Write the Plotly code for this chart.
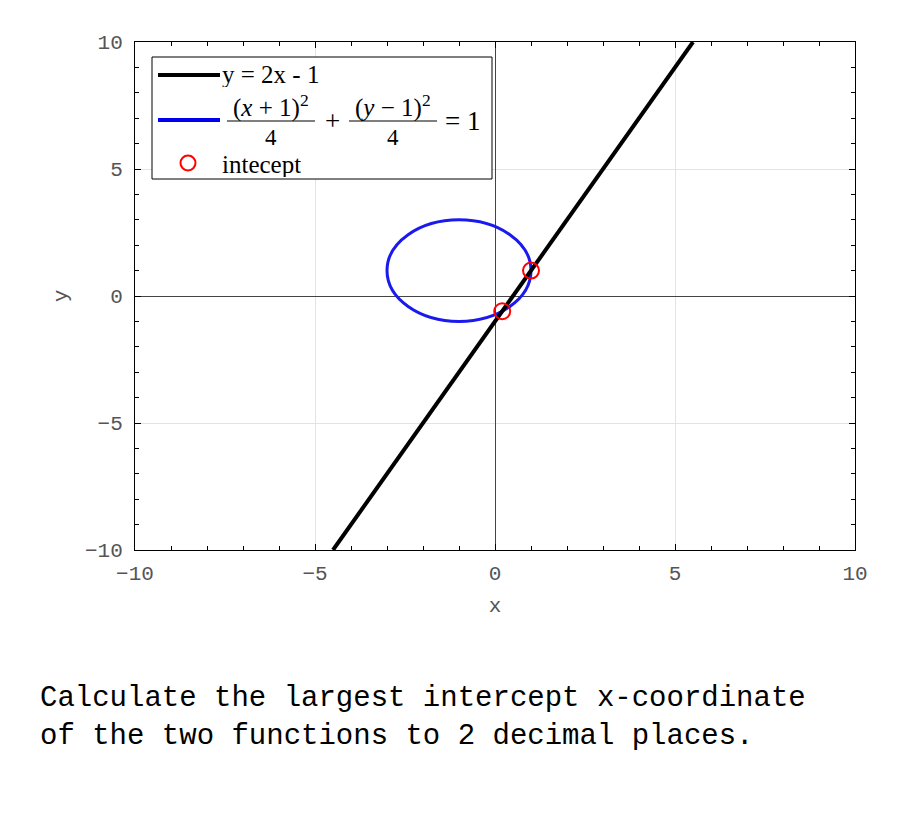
import plotly.graph_objects as go

# line y = 2x - 1, drawn between the edges of the y range
line_x = [-4.5, 5.5]
line_y = [-10, 10]

# circle (x+1)^2/4 + (y-1)^2/4 = 1
circle_center = (-1, 1)
circle_radius = 2

# intersection points
intercept_x = [0.2, 1.0]
intercept_y = [-0.6, 1.0]

legend_labels = ["y = 2x - 1", "intecept"]

mono = "Liberation Mono, Courier New, monospace"
serif = "Liberation Serif, Times New Roman, serif"

# plot area in page pixels (used to place the hand drawn legend)
PL, PT, PW, PH = 135, 42, 720, 508


def px(x):
    return (x - PL) / PW


def py(y):
    return (PT + PH - y) / PH


fig = go.Figure()

fig.add_trace(go.Scatter(
    x=line_x, y=line_y, mode="lines", showlegend=False,
    line=dict(color="black", width=4),
))
fig.add_trace(go.Scatter(
    x=intercept_x, y=intercept_y, mode="markers", showlegend=False,
    marker=dict(symbol="circle-open", size=16, color="red", line=dict(width=2)),
))

cx, cy = circle_center
fig.add_shape(
    type="circle", xref="x", yref="y",
    x0=cx - circle_radius, x1=cx + circle_radius,
    y0=cy - circle_radius, y1=cy + circle_radius,
    line=dict(color="#1a1aee", width=3), layer="between",
)

# legend box
fig.add_shape(type="rect", xref="paper", yref="paper",
              x0=px(152), x1=px(492), y0=py(179), y1=py(57),
              line=dict(color="black", width=1), fillcolor="white", layer="above")
# legend samples
fig.add_shape(type="line", xref="paper", yref="paper",
              x0=px(158), x1=px(220), y0=py(75), y1=py(75),
              line=dict(color="black", width=4), layer="above")
fig.add_shape(type="line", xref="paper", yref="paper",
              x0=px(158), x1=px(220), y0=py(120), y1=py(120),
              line=dict(color="#0000ee", width=4), layer="above")
fig.add_shape(type="circle", xref="paper", yref="paper",
              xsizemode="pixel", ysizemode="pixel",
              xanchor=px(188), yanchor=py(163), x0=-7.5, x1=7.5, y0=-7.5, y1=7.5,
              line=dict(color="red", width=2), layer="above")
# fraction bars
for a, b in [(227, 315), (349, 437)]:
    fig.add_shape(type="line", xref="paper", yref="paper",
                  x0=px(a), x1=px(b), y0=py(121), y1=py(121),
                  line=dict(color="black", width=1), layer="above")


def legend_text(text, x, y, anchor="left", size=25, h=None):
    fig.add_annotation(xref="paper", yref="paper", x=px(x), y=py(y),
                       xanchor=anchor, yanchor="middle", showarrow=False,
                       height=h, valign="middle", borderpad=0,
                       text=text, font=dict(family=serif, size=size, color="black"))


legend_text(legend_labels[0], 221, 74, h=26)
legend_text(legend_labels[1], 221, 164, h=26)
legend_text("(<i>x</i>&nbsp;+&nbsp;1)<sup>2</sup>", 271, 106, "center", h=30)
legend_text("(<i>y</i>&nbsp;−&nbsp;1)<sup>2</sup>", 393, 106, "center", h=30)
legend_text("4", 271, 137, "center", 23, h=22)
legend_text("4", 393, 137, "center", 23, h=22)
legend_text("+", 332, 121, "center", 27, h=22)
legend_text("=&nbsp;1", 444, 121, "left", 27, h=22)

axis_common = dict(
    range=[-10, 10], dtick=5, showgrid=True, gridcolor="#e3e3e3", gridwidth=1,
    zeroline=True, zerolinecolor="#444", zerolinewidth=1,
    showline=True, linecolor="black", linewidth=1, mirror="ticks",
    ticks="inside", ticklen=6, tickcolor="black",
    minor=dict(dtick=1, ticks="inside", ticklen=4, tickcolor="black", showgrid=False),
    tickfont=dict(family=mono, size=21, color="#555"),
    title_font=dict(family=mono, size=21, color="#555"),
)

fig.update_xaxes(title_text="x", title_standoff=12, ticklabelstandoff=4, **axis_common)
fig.update_yaxes(title_text="y", title_standoff=11, ticklabelstandoff=7, **axis_common)

fig.add_annotation(
    xref="paper", yref="paper", x=(38 - PL) / PW, y=py(680),
    xanchor="left", yanchor="top", align="left", showarrow=False,
    text="Calculate the largest intercept x-coordinate<br>of the two functions to 2 decimal places.",
    font=dict(family=mono, size=29, color="black"),
)

# the page body adds 8px, so the margins are 8px smaller
fig.update_layout(
    width=900, height=825,
    margin=dict(l=PL - 8, r=900 - PL - PW + 8, t=PT - 8, b=825 - PT - PH + 8),
    plot_bgcolor="white", paper_bgcolor="white",
    showlegend=False,
)

fig.write_html("out.html")
